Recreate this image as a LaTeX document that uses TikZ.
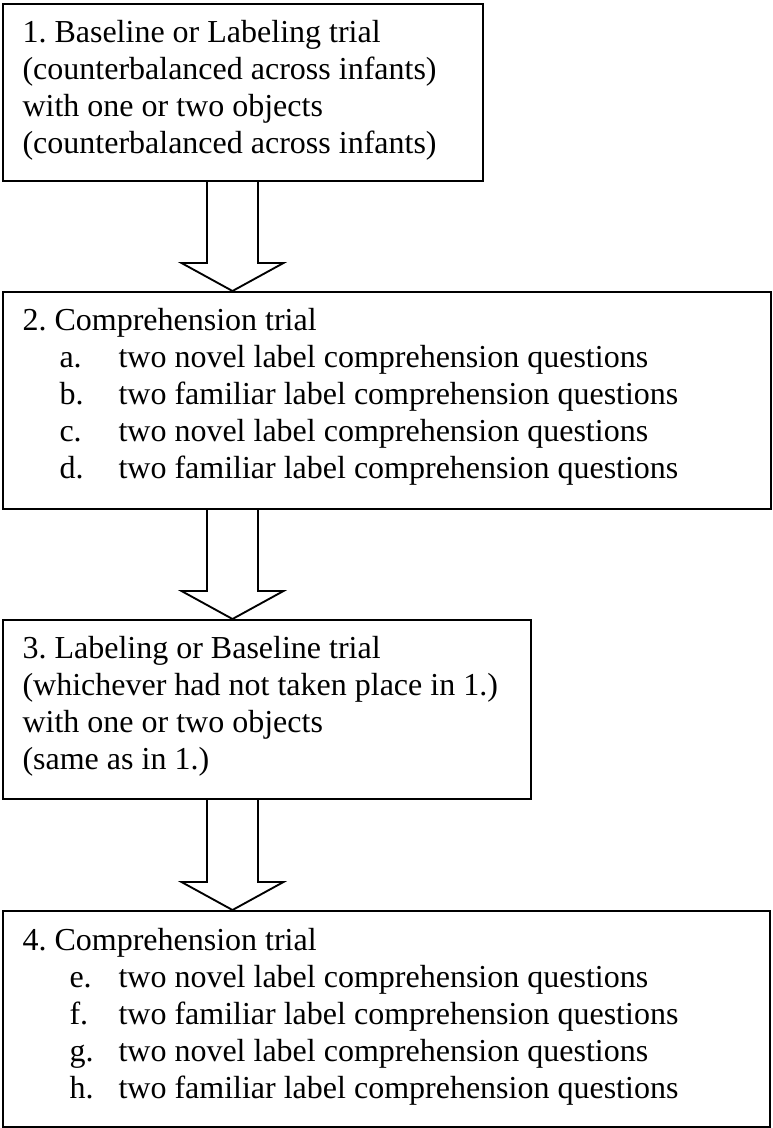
\documentclass[tikz,border=0pt]{standalone}
\usepackage{fontspec}
\setmainfont{Liberation Serif}
\usetikzlibrary{calc}
\frenchspacing

\tikzset{
	stagebox/.style={draw, line width=0.7pt, anchor=north west, inner sep=0pt},
	stagetext/.style={anchor=north west, inner sep=0pt, align=left, font=\fontsize{12}{13.875}\selectfont},
	hollow/.style={line width=0.7pt, line join=miter}
}
% indented list entry: indent, label width, label
\newcommand{\subq}[3]{\hspace*{#1}\makebox[#2][l]{#3}}
% outlined block arrow from one box down to the next
\newcommand{\blockdown}[2]{%
	\draw[hollow] ($(#1.south -| ax)+(-25.5,0)$) -- ($(#2.north -| ax)+(-25.5,-28)$) -- ++(-25.5,0)
		-- (#2.north -| ax) -- ($(#2.north -| ax)+(51,-28)$) -- ++(-25.5,0) -- ($(#1.south -| ax)+(25.5,0)$);}

\begin{document}
\begin{tikzpicture}[x=0.375pt, y=-0.375pt]
		\useasboundingbox (0,0) rectangle (772,1128);
		\coordinate (ax) at (232.5,0);
		
		\node[stagebox, minimum width=180pt, minimum height=66.375pt] (box1) at (2,3) {};
		\node[stagebox, minimum width=288pt, minimum height=81.375pt] (box2) at (2,291) {};
		\node[stagebox, minimum width=198pt, minimum height=67.125pt] (box3) at (2,619) {};
		\node[stagebox, minimum width=287.625pt, minimum height=81pt] (box4) at (2,910) {};
		
		\node[stagetext] (txt1) at (22,20) {1. Baseline or Labeling trial\\(counterbalanced across infants)\\with one or two objects\\(counterbalanced across infants)};
		\node[stagetext] (txt2) at (22,308) {2. Comprehension trial\\
			\subq{13.875pt}{22.125pt}{a.}two novel label comprehension questions\\
			\subq{13.875pt}{22.125pt}{b.}two familiar label comprehension questions\\
			\subq{13.875pt}{22.125pt}{c.}two novel label comprehension questions\\
			\subq{13.875pt}{22.125pt}{d.}two familiar label comprehension questions};
		\node[stagetext] (txt3) at (22,636) {3. Labeling or Baseline trial\\(whichever had not taken place in 1.)\\with one or two objects\\(same as in 1.)};
		\node[stagetext] (txt4) at (22,928) {4. Comprehension trial\\
			\subq{17.625pt}{18.375pt}{e.}two novel label comprehension questions\\
			\subq{17.625pt}{18.375pt}{f.}two familiar label comprehension questions\\
			\subq{17.625pt}{18.375pt}{g.}two novel label comprehension questions\\
			\subq{17.625pt}{18.375pt}{h.}two familiar label comprehension questions};
		
		\blockdown{box1}{box2}
		\blockdown{box2}{box3}
		\blockdown{box3}{box4}
	\end{tikzpicture}
\end{document}
